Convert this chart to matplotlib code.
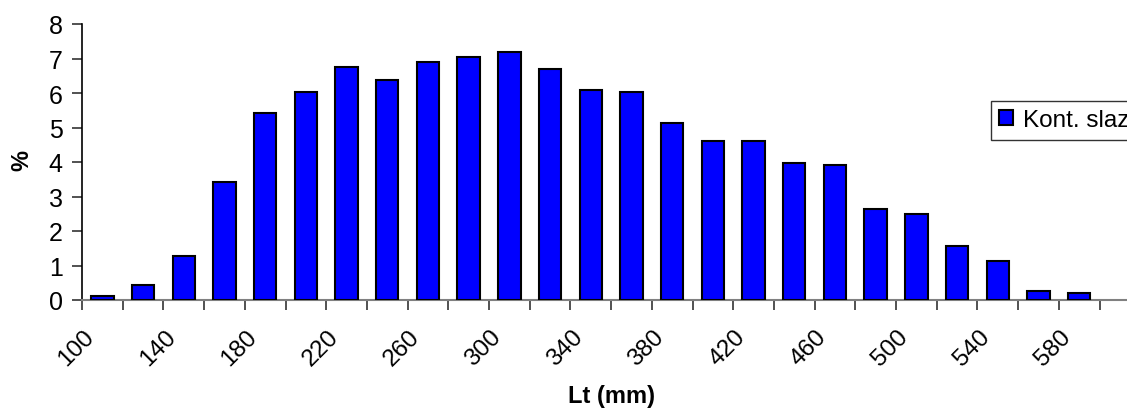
import matplotlib
matplotlib.use("Agg")
import matplotlib.pyplot as plt
import matplotlib.transforms as mtransforms
import numpy as np

plt.rcParams['font.family'] = ['Liberation Sans', 'DejaVu Sans']

categories = list(range(100, 600, 20))
values = [0.12, 0.43, 1.28, 3.41, 5.42, 6.03, 6.74, 6.39, 6.90, 7.04, 7.20, 6.70,
          6.10, 6.04, 5.12, 4.61, 4.61, 3.96, 3.92, 2.64, 2.49, 1.57, 1.12, 0.26, 0.21]
series_label = "Kont. slaz"
yticks = [0, 1, 2, 3, 4, 5, 6, 7, 8]

W, H = 1127, 410
fig = plt.figure(figsize=(W / 100, H / 100), dpi=100)
cat_w = 40.7
n_extra = 2
ax = fig.add_axes([82 / W, 109 / H, (len(categories) + n_extra) * cat_w / W, 276 / H])

x = np.arange(len(categories))
ax.bar(x, values, width=0.55, color='#0000FF', edgecolor='black', linewidth=1.5,
       label=series_label, zorder=3)

ax.set_xlim(-0.5, len(categories) - 0.5 + n_extra)
ax.set_ylim(0, 8)
ax.set_yticks(yticks)
ax.set_yticklabels([str(v) for v in yticks], fontsize=18)

# category labels every other category
ax.set_xticks(x[::2])
ax.set_xticklabels([str(c) for c in categories[::2]], rotation=45, ha='right',
                   va='center', rotation_mode='anchor', fontsize=17.5)
ax.tick_params(axis='x', which='major', length=0, pad=24)
# tick marks between categories
ax.set_xticks(np.arange(-0.5, len(categories) + n_extra, 1.0), minor=True)
ax.tick_params(axis='x', which='minor', length=7, width=1.2, color='#333333', direction='out')
ax.tick_params(axis='y', length=7, width=1.2, color='#333333', direction='out', pad=7)

offset = mtransforms.ScaledTranslation(-0.115, 0, fig.dpi_scale_trans)
for lab in ax.get_xticklabels():
    lab.set_transform(lab.get_transform() + offset)

for s in ['top', 'right']:
    ax.spines[s].set_visible(False)
ax.spines['left'].set_color('black')
ax.spines['left'].set_linewidth(1.2)
ax.spines['bottom'].set_color('#808080')
ax.spines['bottom'].set_linewidth(1.5)

fig.text(22 / W, 1 - 161 / H, '%', fontsize=17, fontweight='bold', rotation=90,
         ha='center', va='center')
fig.text(611 / W, 1 - 397 / H, 'Lt (mm)', fontsize=17, fontweight='bold', ha='center', va='center')

leg = ax.legend(loc='upper left', bbox_to_anchor=(990.5 / W, 1 - 101.5 / H),
                bbox_transform=fig.transFigure, fontsize=17.5, frameon=True, fancybox=False,
                handlelength=0.58, handleheight=0.58, handletextpad=0.41, borderpad=0.35,
                borderaxespad=0)
leg.get_frame().set_edgecolor('black')
leg.get_frame().set_linewidth(1.0)

fig.savefig('out.png', dpi=100)
